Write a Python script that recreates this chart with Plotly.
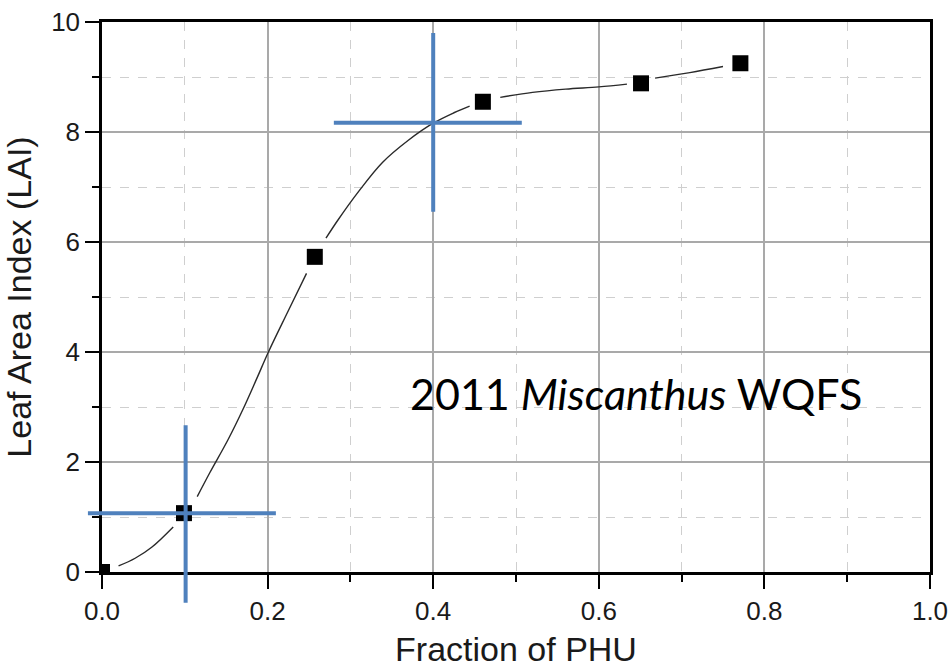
import plotly.graph_objects as go

# ---- data ----
X_RANGE = [0.0, 1.0]
Y_RANGE = [0.0, 10.0]

phu_points = [0.0, 0.099, 0.257, 0.46, 0.651, 0.771]
lai_points = [0.0, 1.07, 5.73, 8.55, 8.885, 9.25]

# fitted curve (gaps where it passes the markers)
curve_x = [0.02, 0.04, 0.06, 0.086, None,
           0.115, 0.13, 0.152, 0.17, 0.187, 0.201, 0.225, 0.247, None,
           0.2705, 0.285, 0.31, 0.339, 0.37, 0.40, 0.425, 0.444, None,
           0.481, 0.52, 0.56, 0.60, 0.634, None,
           0.668, 0.71, 0.75]
curve_y = [0.11, 0.25, 0.45, 0.82, None,
           1.37, 1.8, 2.4, 2.95, 3.52, 4.0, 4.75, 5.43, None,
           6.07, 6.4, 6.92, 7.45, 7.85, 8.16, 8.35, 8.47, None,
           8.63, 8.72, 8.78, 8.82, 8.87, None,
           8.98, 9.08, 9.19]

# blue cross-hairs: centre x, centre y, horizontal extent, vertical extent
cross_cx = [0.101, 0.40]
cross_cy = [1.07, 8.17]
cross_h = [(-0.017, 0.21), (0.28, 0.507)]
cross_v = [(-0.56, 2.67), (6.55, 9.8)]

x_ticks = [0.0, 0.2, 0.4, 0.6, 0.8, 1.0]
y_ticks = [0, 2, 4, 6, 8, 10]

label_text = "2011 <i>Miscanthus</i> WQFS"
label_pos = (0.6455, 3.25)

BLUE = "#4F81BD"


def xd(v):
    return (v - X_RANGE[0]) / (X_RANGE[1] - X_RANGE[0])


def yd(v):
    return (v - Y_RANGE[0]) / (Y_RANGE[1] - Y_RANGE[0])


fig = go.Figure()

fig.add_trace(go.Scatter(
    x=curve_x, y=curve_y, mode="lines",
    line=dict(color="#2a2a2a", width=1.4, shape="spline", smoothing=1.0),
    connectgaps=False, hoverinfo="skip", showlegend=False))

fig.add_trace(go.Scatter(
    x=phu_points, y=lai_points, mode="markers",
    marker=dict(symbol="square", size=16, color="black"),
    showlegend=False))

shapes = []
for cx, cy, (h0, h1), (v0, v1) in zip(cross_cx, cross_cy, cross_h, cross_v):
    shapes.append(dict(type="line", xref="x domain", yref="y domain",
                       x0=xd(h0), x1=xd(h1), y0=yd(cy), y1=yd(cy),
                       line=dict(color=BLUE, width=4), layer="above"))
    shapes.append(dict(type="line", xref="x domain", yref="y domain",
                       x0=xd(cx), x1=xd(cx), y0=yd(v0), y1=yd(v1),
                       line=dict(color=BLUE, width=4), layer="above"))

axis_common = dict(
    showline=True, linecolor="black", linewidth=2.5, mirror=True,
    ticks="outside", ticklen=14, tickwidth=2, tickcolor="black",
    showgrid=True, gridcolor="#a9a9a9", gridwidth=1.5,
    zeroline=False, automargin=False,
    tickfont=dict(family="Liberation Sans, Arial", size=26, color="#1a1a1a"),
)

fig.update_layout(
    width=950, height=668,
    margin=dict(l=102, r=20, t=22, b=96),
    paper_bgcolor="white", plot_bgcolor="white",
    shapes=shapes,
    xaxis=dict(
        range=X_RANGE, tickvals=x_ticks, tickformat=".1f",
        title=dict(text="Fraction of PHU", standoff=14,
                   font=dict(family="Liberation Sans, Arial", size=34, color="#1a1a1a")),
        minor=dict(dtick=0.1, tick0=0, ticklen=7, tickwidth=2, tickcolor="black",
                   ticks="outside", showgrid=True, gridcolor="#cfcfcf",
                   griddash="dash", gridwidth=1),
        **axis_common),
    yaxis=dict(
        range=Y_RANGE, tickvals=y_ticks,
        title=dict(text="Leaf Area Index (LAI)", standoff=10,
                   font=dict(family="Liberation Sans, Arial", size=34, color="#1a1a1a")),
        minor=dict(dtick=1, tick0=0, ticklen=7, tickwidth=2, tickcolor="black",
                   ticks="outside", showgrid=True, gridcolor="#cfcfcf",
                   griddash="dash", gridwidth=1),
        **axis_common),
    annotations=[dict(
        x=label_pos[0], y=label_pos[1], xref="x", yref="y",
        text=label_text, showarrow=False,
        font=dict(family="Lato, Open Sans", size=43, color="black"),
        xanchor="center", yanchor="middle")],
)

fig.write_html("out.html")
